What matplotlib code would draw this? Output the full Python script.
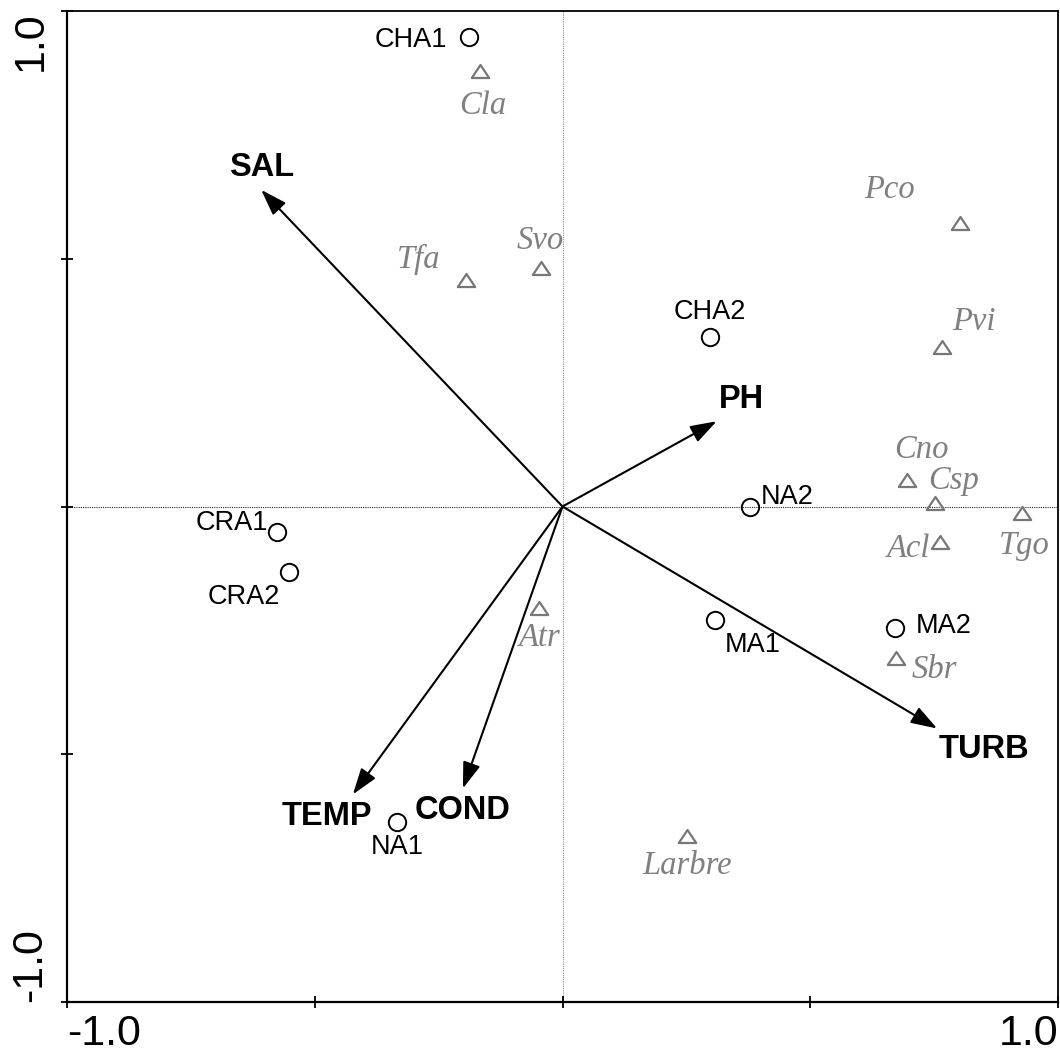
import matplotlib
matplotlib.use("Agg")
import matplotlib.pyplot as plt
from matplotlib.path import Path

# ---------------- data ----------------
sites = ['CHA1', 'CHA2', 'NA2', 'CRA1', 'CRA2', 'NA1', 'MA1', 'MA2']
site_x = [-0.189, 0.298, 0.378, -0.577, -0.552, -0.333, 0.307, 0.672]
site_y = [0.948, 0.342, 0.000, -0.051, -0.132, -0.637, -0.229, -0.245]

species = ['Cla', 'Tfa', 'Svo', 'Pco', 'Pvi', 'Cno', 'Csp', 'Tgo',
           'Acl', 'Atr', 'Sbr', 'Larbre']
sp_x = [-0.166, -0.194, -0.044, 0.802, 0.766, 0.696, 0.752, 0.928,
        0.761, -0.047, 0.674, 0.251]
sp_y = [0.879, 0.458, 0.482, 0.572, 0.321, 0.054, 0.008, -0.013,
        -0.071, -0.204, -0.305, -0.665]

env = ['SAL', 'PH', 'TURB', 'TEMP', 'COND']
env_x = [-0.608, 0.311, 0.756, -0.423, -0.201]
env_y = [0.639, 0.172, -0.448, -0.581, -0.569]

tick_vals = [-1.0, -0.5, 0.0, 0.5, 1.0]
tick_labels = ['-1.0', '', '', '', '1.0']

# ---------------- label layout (offsets in pixels, y up) ----------------
site_lab = {
    'CHA1': ('right', -22, -3), 'CHA2': ('center', 0, 25),
    'NA2': ('left', 11, 9.5), 'CRA1': ('right', -8, 9),
    'CRA2': ('right', -9, -25), 'NA1': ('center', 0, -25),
    'MA1': ('left', 10, -25), 'MA2': ('left', 20, 2),
}
sp_lab = {
    'Cla': ('center', 3, -35), 'Tfa': ('right', -26, 20),
    'Svo': ('center', 0, 27), 'Pco': ('right', -45, 33),
    'Pvi': ('left', 10, 26), 'Cno': ('center', 14, 30),
    'Csp': ('left', -7, 22), 'Tgo': ('center', 2, -33),
    'Acl': ('right', -9, -7), 'Atr': ('center', 0, -30),
    'Sbr': ('left', 15, -12.5), 'Larbre': ('center', 0, -30),
}
env_lab = {
    'SAL': ('center', 0, 22), 'PH': ('left', 2, 22),
    'TURB': ('left', 2, -21), 'TEMP': ('right', 19, -22),
    'COND': ('center', 0, -22),
}
PX = 0.72  # points per pixel at dpi 100

SANS = 'Liberation Sans'
SERIF = 'Liberation Serif'
GREY = '#808080'

fig = plt.figure(figsize=(10.60, 10.56), dpi=100)
ax = fig.add_axes([67 / 1060, (1056 - 1002) / 1056, (1058 - 67) / 1060, (1002 - 11) / 1056])
ax.set_xlim(-1, 1)
ax.set_ylim(-1, 1)

ax.axhline(0, color='0.15', lw=0.8, ls=(0, (1, 1)), zorder=1)
ax.axvline(0, color='0.55', lw=0.8, ls=(0, (1, 1)), zorder=1)

# environmental arrows
for name, ex, ey in zip(env, env_x, env_y):
    ax.annotate('', xy=(ex, ey), xytext=(0, 0),
                arrowprops=dict(arrowstyle='-|>,head_length=0.8,head_width=0.27',
                                mutation_scale=20, lw=1.5, color='k',
                                shrinkA=0, shrinkB=0), zorder=3)
    ha, dx, dy = env_lab[name]
    ax.annotate(name, xy=(ex, ey), xytext=(dx * PX, dy * PX),
                textcoords='offset points', ha=ha, va='center',
                fontsize=23.5, fontweight='bold', family=SANS, color='k')

# species
tri = Path([(-1, -0.75), (1, -0.75), (0, 0.75), (-1, -0.75)],
           [Path.MOVETO, Path.LINETO, Path.LINETO, Path.CLOSEPOLY])
ax.plot(sp_x, sp_y, linestyle='none', marker=tri, markersize=12.5,
        markerfacecolor='none', markeredgecolor='#777777', markeredgewidth=1.6,
        zorder=4)
for name, x, y in zip(species, sp_x, sp_y):
    ha, dx, dy = sp_lab[name]
    ax.annotate(name, xy=(x, y), xytext=(dx * PX, dy * PX),
                textcoords='offset points', ha=ha, va='center',
                fontsize=23.5, fontstyle='italic', family=SERIF, color=GREY)

# sites
ax.plot(site_x, site_y, linestyle='none', marker='o', markersize=12.5,
        markerfacecolor='none', markeredgecolor='k', markeredgewidth=1.4,
        zorder=5)
for name, x, y in zip(sites, site_x, site_y):
    ha, dx, dy = site_lab[name]
    ax.annotate(name, xy=(x, y), xytext=(dx * PX, dy * PX),
                textcoords='offset points', ha=ha, va='center',
                fontsize=19.5, family=SANS, color='k')

# axes styling
for s in ax.spines.values():
    s.set_linewidth(1.3)
    s.set_color('k')
ax.spines['left'].set_linewidth(1.6)
ax.spines['bottom'].set_linewidth(1.6)

ax.set_xticks(tick_vals)
ax.set_yticks(tick_vals)
ax.set_xticklabels(tick_labels, fontsize=31, family=SANS)
ax.set_yticklabels(tick_labels, fontsize=31, family=SANS, rotation=90)
ax.tick_params(direction='inout', length=8, width=1.3)
ax.tick_params(axis='x', pad=4.6)
ax.tick_params(axis='y', pad=8)
xl = ax.get_xticklabels()
xl[0].set_ha('left')
xl[-1].set_ha('right')
yl = ax.get_yticklabels()
for lab in yl:
    lab.set_ha('right')
yl[0].set_va('bottom')
yl[-1].set_va('top')

fig.savefig('out.png', dpi=100)
